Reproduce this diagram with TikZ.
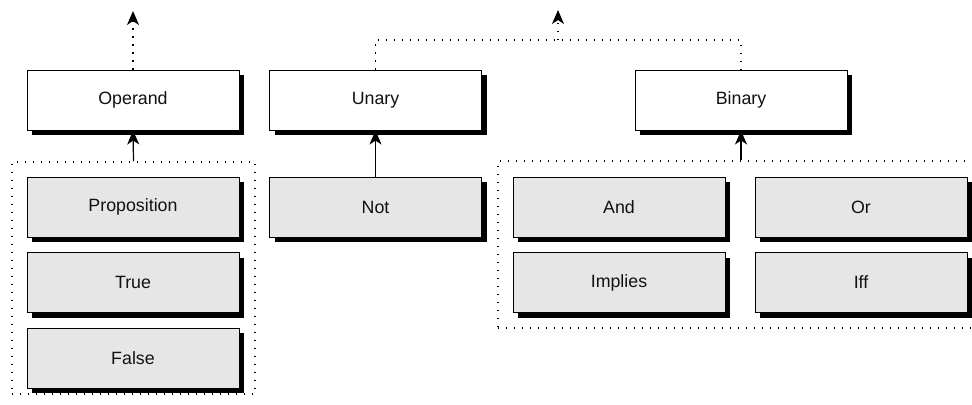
\documentclass[tikz,border=0pt]{standalone}
\usepackage{fontspec}
\setmainfont{Liberation Sans}
\usetikzlibrary{positioning, arrows.meta, shadows}
\definecolor{Box}{HTML}{E6E6E6}
\definecolor{Ink}{HTML}{111111}
\tikzset{
    kindnode/.style={rectangle, draw=black, line width=0.5pt, fill=white, text=Ink, minimum width=106pt, minimum height=30pt, font=\fontsize{8.9}{10.7}\selectfont,
        drop shadow={shadow xshift=2.5pt, shadow yshift=-2.5pt, fill=black, opacity=1}},
    leafnode/.style={kindnode, fill=Box},
    groupbox/.style={rectangle, draw=black, line width=0.6pt, dash pattern=on 0.6pt off 3.4pt, inner sep=0pt},
    link/.style={-{Stealth[length=7pt, width=6pt, inset=2pt]}, line width=0.6pt},
    dotlink/.style={line width=0.6pt, dash pattern=on 0.6pt off 3.4pt},
}
\begin{document}
\begin{tikzpicture}[x=0.5pt, y=-0.5pt]
    \useasboundingbox (0,0) rectangle (972,404);

    % Gruppi tratteggiati
    \node[groupbox, minimum width=121.5pt, minimum height=116pt] (opgroup) at (133.5,278) {};
    \node[groupbox, minimum width=243pt, minimum height=83.5pt] (bingroup) at (741,244.5) {};

    % Tipi
    \node[kindnode] (operand) at (133,100) {Operand};
    \node[kindnode] (unary) at (375.5,100) {Unary};
    \node[kindnode] (binary) at (741,100) {Binary};

    % Foglie
    \node[leafnode] (prop) at (133,207) {Proposition};
    \node[leafnode] (true) at (133,282.5) {True};
    \node[leafnode] (false) at (133,358) {False};
    \node[leafnode] (not) at (375.5,207) {Not};
    \node[leafnode] (and) at (619,207) {And};
    \node[leafnode] (or) at (861,207) {Or};
    \node[leafnode] (implies) at (619,282.5) {Implies};
    \node[leafnode] (iff) at (861,282.5) {Iff};

    % Collegamenti
    \draw[link] (opgroup.north) -- (operand.south);
    \draw[link] (not.north) -- (unary.south);
    \draw[link] (bingroup.north) -- (binary.south);

    % Verso l'alto
    \coordinate (optop) at (133,11);
    \coordinate (join) at (558,40);
    \coordinate (optop2) at (558,10);
    \draw[link, dotlink] (operand.north) -- (optop);
    \draw[dotlink] (unary.north) |- (join) -| (binary.north);
    \draw[link, dotlink] (join) -- (optop2);
\end{tikzpicture}
\end{document}
